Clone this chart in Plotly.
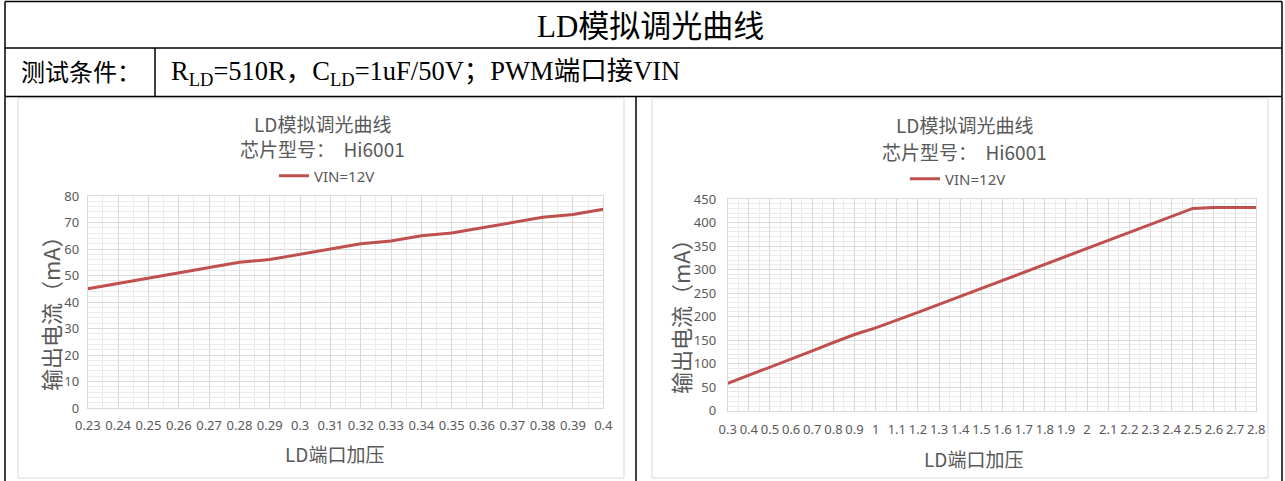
import plotly.graph_objects as go

# ---------------- data ----------------
left_x_labels = ["0.23", "0.24", "0.25", "0.26", "0.27", "0.28", "0.29", "0.3", "0.31",
                 "0.32", "0.33", "0.34", "0.35", "0.36", "0.37", "0.38", "0.39", "0.4"]
left_x = [0.23, 0.24, 0.25, 0.26, 0.27, 0.28, 0.29, 0.30, 0.31,
          0.32, 0.33, 0.34, 0.35, 0.36, 0.37, 0.38, 0.39, 0.40]
left_current = [45, 47, 49, 51, 53, 55, 56, 58, 60, 62, 63, 65, 66, 68, 70, 72, 73, 75]

right_x_labels = ["0.3", "0.4", "0.5", "0.6", "0.7", "0.8", "0.9", "1", "1.1", "1.2", "1.3",
                  "1.4", "1.5", "1.6", "1.7", "1.8", "1.9", "2", "2.1", "2.2", "2.3", "2.4",
                  "2.5", "2.6", "2.7", "2.8"]
right_x = [0.3, 0.4, 0.5, 0.6, 0.7, 0.8, 0.9, 1.0, 1.1, 1.2, 1.3,
           1.4, 1.5, 1.6, 1.7, 1.8, 1.9, 2.0, 2.1, 2.2, 2.3, 2.4,
           2.5, 2.6, 2.7, 2.8]
right_current = [58, 75, 93, 110, 127, 145, 162, 176, 192, 209, 226, 243, 260, 277,
                 294, 311, 329, 346, 363, 379, 396, 413, 430, 432, 432, 432]

series_name = "VIN=12V"
chart_title = "LD模拟调光曲线"
chart_subtitle = "芯片型号：  Hi6001"
x_title = "LD端口加压"
y_title = "输出电流（mA）"
table_title = "LD模拟调光曲线"
cond_label = "测试条件："
cond_text = "R<sub>LD</sub>=510R，C<sub>LD</sub>=1uF/50V；PWM端口接VIN"

# ---------------- styling ----------------
W, H = 1285, 481
RED = "#C0504D"
GRAY = "#595959"
GRID = "#d9d9d9"
MINOR = "#ebebeb"
CJK = "Noto Sans CJK SC"
NUM = "Liberation Sans Narrow, Noto Sans, sans-serif"
SERIF = "Liberation Serif, Noto Sans CJK SC, serif"


def px(x):
    return x / W


def py(y):
    return 1 - y / H


fig = go.Figure()
fig.add_trace(go.Scatter(x=left_x, y=left_current, mode="lines", name=series_name,
                         line=dict(color=RED, width=3), xaxis="x", yaxis="y",
                         legend="legend", hoverinfo="x+y"))
fig.add_trace(go.Scatter(x=right_x, y=right_current, mode="lines", name=series_name,
                         line=dict(color=RED, width=3), xaxis="x2", yaxis="y2",
                         legend="legend2", hoverinfo="x+y"))

common_axis = dict(showgrid=True, gridcolor=GRID, gridwidth=1, zeroline=False,
                   showline=True, linecolor=GRID, linewidth=1, mirror=True,
                   ticks="", automargin=False,
                   tickfont=dict(family=NUM, size=13, color=GRAY))

fig.update_layout(
    template="none",
    width=W, height=H, autosize=False,
    margin=dict(l=0, r=0, t=0, b=0, pad=0),
    paper_bgcolor="white", plot_bgcolor="white",
    showlegend=True,
    xaxis=dict(domain=[px(87.8), px(603.3)], range=[0.23, 0.40], anchor="y",
               tickmode="array", tickvals=left_x, ticktext=left_x_labels,
               ticklabelstandoff=5,
               minor=dict(tick0=0.23, dtick=0.005, showgrid=True, gridcolor=MINOR),
               **common_axis),
    yaxis=dict(domain=[py(408), py(196)], range=[0, 80], anchor="x",
               dtick=10, tick0=0, ticklabelstandoff=5,
               minor=dict(tick0=0, dtick=2, showgrid=True, gridcolor=MINOR),
               **common_axis),
    xaxis2=dict(domain=[px(727.7), px(1256.2)], range=[0.3, 2.8], anchor="y2",
                tickmode="array", tickvals=right_x, ticktext=right_x_labels,
                ticklabelstandoff=7,
                minor=dict(tick0=0.3, dtick=0.05, showgrid=True, gridcolor=MINOR),
                **common_axis),
    yaxis2=dict(domain=[py(410.7), py(199)], range=[0, 450], anchor="x2",
                dtick=50, tick0=0, ticklabelstandoff=8,
                minor=dict(tick0=0, dtick=10, showgrid=True, gridcolor=MINOR),
                **common_axis),
    legend=dict(x=px(327), y=py(176), xanchor="center", yanchor="middle",
                orientation="h", bgcolor="rgba(0,0,0,0)",
                font=dict(family=NUM, size=15, color=GRAY)),
    legend2=dict(x=px(958), y=py(179), xanchor="center", yanchor="middle",
                 orientation="h", bgcolor="rgba(0,0,0,0)",
                 font=dict(family=NUM, size=15, color=GRAY)),
)

shapes = []
line_black = dict(color="black", width=1.5)
# table frame
shapes.append(dict(type="line", xref="paper", yref="paper", x0=px(5), x1=px(1282), y0=py(1.5), y1=py(1.5), line=line_black))
shapes.append(dict(type="line", xref="paper", yref="paper", x0=px(5), x1=px(1282), y0=py(48), y1=py(48), line=line_black))
shapes.append(dict(type="line", xref="paper", yref="paper", x0=px(5), x1=px(1282), y0=py(96.5), y1=py(96.5), line=line_black))
shapes.append(dict(type="line", xref="paper", yref="paper", x0=px(5), x1=px(5), y0=py(1.5), y1=py(481), line=line_black))
shapes.append(dict(type="line", xref="paper", yref="paper", x0=px(1282), x1=px(1282), y0=py(1.5), y1=py(481), line=line_black))
shapes.append(dict(type="line", xref="paper", yref="paper", x0=px(155), x1=px(155), y0=py(48), y1=py(96.5), line=line_black))
shapes.append(dict(type="line", xref="paper", yref="paper", x0=px(636), x1=px(636), y0=py(96.5), y1=py(481), line=line_black))
# chart area borders
for (x0, x1) in [(18, 624), (652, 1268)]:
    shapes.append(dict(type="rect", xref="paper", yref="paper", x0=px(x0), x1=px(x1),
                       y0=py(478), y1=py(98), line=dict(color="#d9d9d9", width=1),
                       fillcolor="white", layer="below"))
fig.update_layout(shapes=shapes)

ann = []


def add_text(text, x, y, font, xanchor="center", yanchor="middle", angle=0):
    ann.append(dict(text=text, x=px(x), y=py(y), xref="paper", yref="paper",
                    xanchor=xanchor, yanchor=yanchor, textangle=angle,
                    showarrow=False, font=font))


add_text(table_title, 650, 26, dict(family=SERIF, size=31, color="black"))
add_text(cond_label, 19, 73, dict(family=SERIF, size=24, color="black"), xanchor="left")
add_text(cond_text, 169, 73, dict(family=SERIF, size=26.5, color="black"), xanchor="left")
for cx, ty, sy, ycx, ycy, xtx, xty in [(322, 123, 149, 50, 308, 334, 453),
                                       (964, 124, 151, 680, 311, 973, 458)]:
    add_text(chart_title, cx, ty, dict(family=CJK, size=19, color=GRAY))
    add_text(chart_subtitle, cx, sy, dict(family=CJK, size=19, color=GRAY))
    add_text(y_title, ycx, ycy, dict(family=CJK, size=22, color=GRAY), angle=-90)
    add_text(x_title, xtx, xty, dict(family=CJK, size=19, color=GRAY))
fig.update_layout(annotations=ann)

fig.write_html("out.html", config={"displayModeBar": False},
               post_script="document.body.style.margin='0px';")
